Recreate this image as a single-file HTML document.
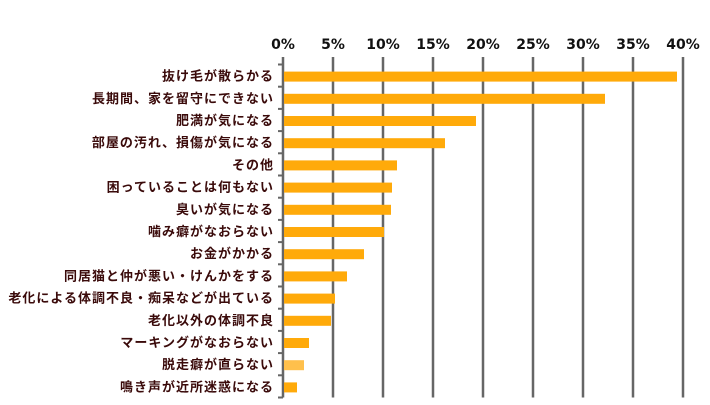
<!DOCTYPE html>
<html><head><meta charset="utf-8"><style>
body{margin:0;background:#fff;}
svg text{font-family:"Liberation Sans","Noto Sans CJK JP",sans-serif;font-weight:bold;}
svg text.tick{font-family:"DejaVu Sans","Liberation Sans",sans-serif;}
</style></head><body>
<svg width="710" height="400">
<g id="grid"></g><g id="bars"></g><g id="labels"></g>
</svg>
<script>
const categories=["抜け毛が散らかる","長期間、家を留守にできない","肥満が気になる","部屋の汚れ、損傷が気になる","その他","困っていることは何もない","臭いが気になる","噛み癖がなおらない","お金がかかる","同居猫と仲が悪い・けんかをする","老化による体調不良・痴呆などが出ている","老化以外の体調不良","マーキングがなおらない","脱走癖が直らない","鳴き声が近所迷惑になる"];
const values=[39.4,32.2,19.3,16.2,11.4,10.9,10.8,10.1,8.1,6.4,5.2,4.8,2.6,2.1,1.4];
const highlight=[false,false,false,false,false,false,false,false,false,false,false,false,false,true,false];
const ticks=[0,5,10,15,20,25,30,35,40];
const NS="http://www.w3.org/2000/svg";
const x0=283,pxPer=10,top0=64.5,band=22.2;
const xs=v=>x0+v*pxPer;
const ys=i=>top0+i*band;
function mk(t,a,p){const e=document.createElementNS(NS,t);for(const k in a)e.setAttribute(k,a[k]);p.appendChild(e);return e;}
const grid=document.getElementById('grid'),bars=document.getElementById('bars'),labels=document.getElementById('labels');
const bottom=ys(categories.length);
ticks.forEach(t=>{
 const l=mk('line',{x1:xs(t),x2:xs(t),y1:57,y2:bottom,stroke:'#666','stroke-width':2.5},grid);
 
 
 const tx=mk('text',{x:xs(t),y:49,'text-anchor':'middle','font-size':14,fill:'#111','class':'tick'},grid);
 tx.textContent=t+'%';
 
 
});
for(let i=0;i<=categories.length;i++){
 const l=mk('line',{x1:x0-5,x2:x0,y1:ys(i),y2:ys(i),stroke:'#666','stroke-width':2},grid);
 
 
}
categories.forEach((c,i)=>{
 const cy=ys(i)+band/2+1;
 const r=mk('rect',{x:x0+1,y:cy-5,width:xs(values[i])-x0-1,height:10,fill:highlight[i]?'#FFC04C':'#FFAA0A'},bars);
 
 
 const t=mk('text',{x:274,y:cy+4,'text-anchor':'end','font-size':13,'letter-spacing':'1',fill:'#3a0a0a'},labels);
 t.textContent=c;
 
 
});
</script>
</body></html>
